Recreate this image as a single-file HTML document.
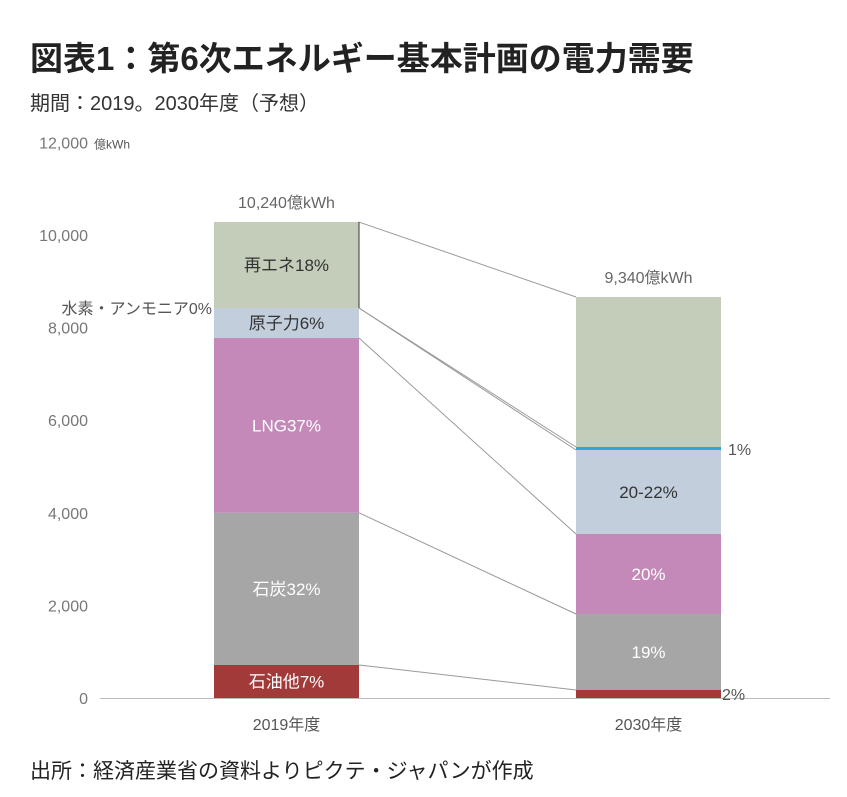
<!DOCTYPE html>
<html><head><meta charset="utf-8">
<style>
body{margin:0;background:#fff;width:847px;height:792px;overflow:hidden;font-family:"Liberation Sans","Noto Sans CJK JP",sans-serif;}
svg text{font-family:"Liberation Sans","Noto Sans CJK JP",sans-serif;}
</style></head><body>
<svg width="847" height="792">
<text x="30" y="70" font-size="33" font-weight="bold" fill="#222">図表1：第6次エネルギー基本計画の電力需要</text>
<text x="30" y="110" font-size="20" fill="#333">期間：2019。2030年度（予想）</text>
<g id="axis"></g>
<g id="links"></g>
<g id="bars"></g>
<text x="30" y="778" font-size="21" fill="#222">出所：経済産業省の資料よりピクテ・ジャパンが作成</text>
</svg>
<script>
const categories=["2019年度","2030年度"];
const segNames=["oil","coal","lng","nuclear","hydrogen","renewables"];
const values2019=[713,3287,3775,648,0,1857];
const values2030=[173,1641,1728,1814,65,3240];
const labels2019=["石油他7%","石炭32%","LNG37%","原子力6%","","再エネ18%"];
const labels2030=["","19%","20%","20-22%","",""];
const totals=["10,240億kWh","9,340億kWh"];
const ticks=[0,2000,4000,6000,8000,10000,12000];
const colors=["#a33a3a","#a6a6a6","#c489b8","#c3cedc","#2aa8dc","#c4cdb9"];
const textColors=["#fff","#fff","#fff","#333","#333","#333"];
const NS="http://www.w3.org/2000/svg";
const y0=698,k=0.0463;
function y(v){return y0-v*k;}
const barX=[214,576],barW=145;
function mk(tag,attrs,parent,txt){const e=document.createElementNS(NS,tag);for(const a in attrs)e.setAttribute(a,attrs[a]);if(txt!==undefined)e.textContent=txt;parent.appendChild(e);return e;}
const ax=document.getElementById('axis');
ticks.forEach(t=>{
 const e=mk('text',{x:88,y:y(t)+6,'font-size':16,fill:'#777','text-anchor':'end'},ax,t.toLocaleString('en-US'));
 
 
});
const u=mk('text',{x:94,y:y(12000)+6,'font-size':12,fill:'#555'},ax,'億kWh');


const al=mk('line',{x1:100,x2:830,y1:y0+0.5,y2:y0+0.5,stroke:'#bbb','stroke-width':1},ax);


const bars=document.getElementById('bars');
const links=document.getElementById('links');
const series=[values2019,values2030],labs=[labels2019,labels2030];
const tops=[[],[]];
series.forEach((vals,b)=>{
 let cum=0;
 vals.forEach((v,i)=>{
  const t=cum+v;
  tops[b].push(t);
  if(v>0){
   const r=mk('rect',{x:barX[b],y:y(t),width:barW,height:v*k,fill:colors[i]},bars);
   
   
   if(labs[b][i]){
    const tx=mk('text',{x:barX[b]+barW/2,y:y(cum+v/2)+6,'font-size':17,fill:textColors[i],'text-anchor':'middle'},bars,labs[b][i]);
    
    
   }
  }
  cum=t;
 });
 const tl=mk('text',{x:barX[b]+barW/2,y:y(cum)-14,'font-size':16,fill:'#666','text-anchor':'middle'},bars,totals[b]);
 
 
 const cl=mk('text',{x:barX[b]+barW/2,y:y0+32,'font-size':16,fill:'#555','text-anchor':'middle'},bars,categories[b]);
 
 
});
tops[0].forEach((t,i)=>{
 const l=mk('line',{x1:barX[0]+barW,y1:y(t),x2:barX[1],y2:y(tops[1][i]),stroke:'#999','stroke-width':1},links);
 
 
});
const edge=mk('line',{x1:barX[0]+barW,x2:barX[0]+barW,y1:y(tops[0][5]),y2:y(tops[0][3]),stroke:'#333','stroke-width':1},bars);


const extra=[["水素・アンモニア0%",212,y(tops[0][3])+6,'end'],["1%",728,y(tops[1][4])+8,'start'],["2%",722,y(tops[1][0])+10,'start']];
extra.forEach(e=>{
 const t=mk('text',{x:e[1],y:e[2],'font-size':16,fill:'#555','text-anchor':e[3]},bars,e[0]);
 
 
});
</script>
</body></html>
